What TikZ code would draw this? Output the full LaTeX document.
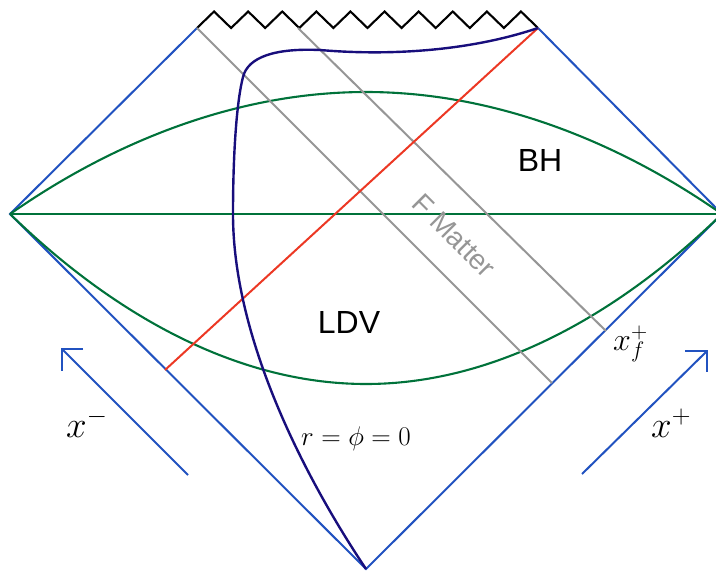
\documentclass[tikz,border=0pt]{standalone}
\usepackage{fix-cm}
\usepackage{fontspec}
\setmainfont{Liberation Sans}
\definecolor{pblue}{RGB}{33,82,192}
\definecolor{pgreen}{RGB}{0,114,58}
\definecolor{pred}{RGB}{236,56,36}
\definecolor{pgray}{RGB}{150,150,150}
\definecolor{pnavy}{RGB}{24,14,124}
\begin{document}
\begin{tikzpicture}[x=1pt,y=-1pt,
  edge/.style={pblue,line width=2pt},
  slice/.style={pgreen,line width=2.1pt},
  matter/.style={pgray,line width=2pt},
  lbl/.style={inner sep=0pt,font=\fontsize{32}{36}\selectfont},
  mlbl/.style={inner sep=0pt}]
\useasboundingbox (0,0) rectangle (716,571);
% corners
\coordinate (L) at (10,214);
\coordinate (R) at (722,214);
\coordinate (B) at (366,569);
\coordinate (TL) at (197,28);
\coordinate (TR) at (538,28);
% horizon / edges
\draw[edge,line join=miter] (TL) -- (L) -- (B) -- (R) -- (TR);
% singularity
\draw[black,line width=2.1pt,line join=miter] (TL) \foreach \i in {1,...,10} {-- ++(17.05,-16.5) -- ++(17.05,16.5)};
% green slices
\draw[slice] (L) -- (716,214);
\draw[slice] (L) parabola bend (366,92) (R);
\draw[slice] (L) parabola bend (366,384) (R);
% matter lines
\coordinate (G1e) at (552,383);
\coordinate (G2s) at (298,28);
\coordinate (G2e) at (606,331);
\draw[matter] (TL) -- (G1e);
\draw[matter] (G2s) -- (G2e);
% red line
\coordinate (Rs) at (165,370);
\draw[pred,line width=2pt] (Rs) -- (TR);
% navy curve r=phi=0
\coordinate (N1) at (233,214);
\coordinate (N2) at (243,77);
\coordinate (N3) at (320,50);
\draw[pnavy,line width=2.4pt] (B) .. controls (299.4,469.2) and (233,334) .. (N1)
  .. controls (233,150) and (237,100) .. (N2)
  .. controls (248,57) and (275,48) .. (N3)
  .. controls (390,56) and (470,51) .. (TR);
% arrows
\coordinate (Am1) at (188,475);
\coordinate (Am2) at (62,349);
\coordinate (Am3) at (83,349);
\coordinate (Am4) at (62,371);
\draw[edge] (Am1) -- (Am2);
\draw[edge,line join=miter] (Am3) -- (Am2) -- (Am4);
\coordinate (Ap1) at (582,474);
\coordinate (Ap2) at (707,351);
\coordinate (Ap3) at (685,351);
\coordinate (Ap4) at (707,372);
\draw[edge] (Ap1) -- (Ap2);
\draw[edge,line join=miter] (Ap3) -- (Ap2) -- (Ap4);
% labels
\node[lbl] (bh) at (540,160) {BH};
\node[lbl] (ldv) at (349,322) {LDV};
\node[inner sep=0pt,pgray,rotate=-45,font=\fontsize{28}{32}\selectfont] (fm) at (454,236) {F Matter};
\node[mlbl,anchor=base west,font=\fontsize{27}{31}\selectfont] (r0) at (301,445) {$r=\phi=0$};
\node[mlbl,anchor=base west,font=\fontsize{37}{44}\selectfont] (xm) at (66,437) {$x^-$};
\node[mlbl,anchor=base west,font=\fontsize{32}{36}\selectfont] (xp) at (651,437) {\fontsize{37}{44}\selectfont$x^+$};
\node[mlbl,anchor=base west,font=\fontsize{32}{36}\selectfont] (xf) at (613,350) {$x_f^+$};
\end{tikzpicture}
\end{document}
